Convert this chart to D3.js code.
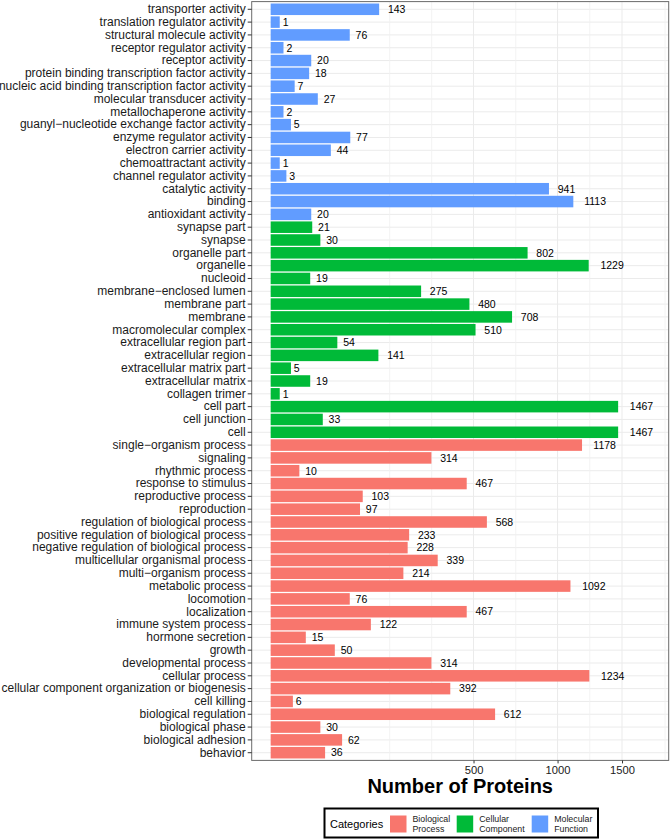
<!DOCTYPE html>
<html>
<head>
<meta charset="utf-8">
<script src="https://cdnjs.cloudflare.com/ajax/libs/d3/7.8.5/d3.min.js"></script>
<style>
  body { margin: 0; background: #fff; }
  svg { font-family: "Liberation Sans", Arial, sans-serif; }
</style>
</head>
<body>
<div id="chart"></div>
<script>
// GO terms, listed top to bottom as in the figure
var mfTerms = ["transporter activity", "translation regulator activity", "structural molecule activity",
    "receptor regulator activity", "receptor activity", "protein binding transcription factor activity",
    "nucleic acid binding transcription factor activity", "molecular transducer activity",
    "metallochaperone activity", "guanyl\u2212nucleotide exchange factor activity", "enzyme regulator activity",
    "electron carrier activity", "chemoattractant activity", "channel regulator activity",
    "catalytic activity", "binding", "antioxidant activity"];
var mfCounts = [143, 1, 76, 2, 20, 18, 7, 27, 2, 5, 77, 44, 1, 3, 941, 1113, 20];

var ccTerms = ["synapse part", "synapse", "organelle part", "organelle", "nucleoid",
    "membrane\u2212enclosed lumen", "membrane part", "membrane", "macromolecular complex",
    "extracellular region part", "extracellular region", "extracellular matrix part",
    "extracellular matrix", "collagen trimer", "cell part", "cell junction", "cell"];
var ccCounts = [21, 30, 802, 1229, 19, 275, 480, 708, 510, 54, 141, 5, 19, 1, 1467, 33, 1467];

var bpTerms = ["single\u2212organism process", "signaling", "rhythmic process", "response to stimulus",
    "reproductive process", "reproduction", "regulation of biological process",
    "positive regulation of biological process", "negative regulation of biological process",
    "multicellular organismal process", "multi\u2212organism process", "metabolic process",
    "locomotion", "localization", "immune system process", "hormone secretion", "growth",
    "developmental process", "cellular process", "cellular component organization or biogenesis",
    "cell killing", "biological regulation", "biological phase", "biological adhesion", "behavior"];
var bpCounts = [1178, 314, 10, 467, 103, 97, 568, 233, 228, 339, 214, 1092, 76, 467, 122, 15, 50,
    314, 1234, 392, 6, 612, 30, 62, 36];

var categoryNames = ["Biological Process", "Cellular Component", "Molecular Function"];
var categoryColors = ["#F8766D", "#00BA38", "#619CFF"];

var xTicks = [500, 1000, 1500];
var xMinorTicks = [172, 315, 730, 1237, 1890];

// combine into rows
var rows = [];
mfTerms.forEach(function(t, i) { rows.push({term: t, count: mfCounts[i], cat: "Molecular Function"}); });
ccTerms.forEach(function(t, i) { rows.push({term: t, count: ccCounts[i], cat: "Cellular Component"}); });
bpTerms.forEach(function(t, i) { rows.push({term: t, count: bpCounts[i], cat: "Biological Process"}); });

var svgWidth = 672;
var svgHeight = 840;
var panel = {left: 251.7, right: 668.7, top: 1.6, bottom: 760.4};

var svg = d3.select("#chart")
    .append("svg")
    .attr("width", svgWidth)
    .attr("height", svgHeight);

// sqrt scale, padded a little below zero like ggplot's expansion
var x = d3.scaleSqrt()
    .domain([-4.37, 1925])
    .range([panel.left, panel.right]);

var y = d3.scaleBand()
    .domain(rows.map(d => d.term))
    .range([panel.top, panel.bottom])
    .paddingInner(0.1)
    .paddingOuter(0.15);

var color = d3.scaleOrdinal()
    .domain(categoryNames)
    .range(categoryColors);

// grid
var grid = svg.append("g");
grid.selectAll(".hgrid")
    .data(rows)
    .enter()
    .append("line")
    .attr("x1", panel.left).attr("x2", panel.right)
    .attr("y1", d => y(d.term) + y.bandwidth() / 2)
    .attr("y2", d => y(d.term) + y.bandwidth() / 2)
    .attr("stroke", "#ebebeb")
    .attr("stroke-width", 1);
grid.selectAll(".vminor")
    .data(xMinorTicks)
    .enter()
    .append("line")
    .attr("x1", d => x(d)).attr("x2", d => x(d))
    .attr("y1", panel.top).attr("y2", panel.bottom)
    .attr("stroke", "#f0f0f0")
    .attr("stroke-width", 0.8);
grid.selectAll(".vmajor")
    .data(xTicks)
    .enter()
    .append("line")
    .attr("x1", d => x(d)).attr("x2", d => x(d))
    .attr("y1", panel.top).attr("y2", panel.bottom)
    .attr("stroke", "#ebebeb")
    .attr("stroke-width", 1);

// bars
svg.append("g")
    .selectAll("rect")
    .data(rows)
    .enter()
    .append("rect")
    .attr("x", x(0))
    .attr("y", d => y(d.term))
    .attr("width", d => x(d.count) - x(0))
    .attr("height", y.bandwidth())
    .attr("fill", d => color(d.cat));

// value labels, pushed right by half their width (hjust = -0.5)
svg.append("g")
    .selectAll("text")
    .data(rows)
    .enter()
    .append("text")
    .attr("y", d => y(d.term) + y.bandwidth() / 2)
    .attr("dy", "0.36em")
    .attr("font-size", "10.5px")
    .attr("fill", "#000")
    .text(d => d.count)
    .attr("x", function(d) {
        return x(d.count) + this.getComputedTextLength() * 0.5;
    });

// panel border
svg.append("rect")
    .attr("x", panel.left).attr("y", panel.top)
    .attr("width", panel.right - panel.left)
    .attr("height", panel.bottom - panel.top)
    .attr("fill", "none")
    .attr("stroke", "#6b6b6b")
    .attr("stroke-width", 1);

// y axis
var leftAxis = d3.axisLeft(y).tickSize(4).tickPadding(2);
var yAxis = svg.append("g")
    .attr("transform", `translate(${panel.left},0)`)
    .call(leftAxis);
yAxis.select(".domain").remove();
yAxis.selectAll(".tick line").attr("stroke", "#333");
yAxis.selectAll("text")
    .attr("font-size", "12px")
    .attr("fill", "#1a1a1a")
    .attr("font-family", "Liberation Sans, Arial, sans-serif");

// x axis
var bottomAxis = d3.axisBottom(x).tickValues(xTicks).tickFormat(d3.format("d")).tickSize(3).tickPadding(3);
var xAxis = svg.append("g")
    .attr("transform", `translate(0,${panel.bottom})`)
    .call(bottomAxis);
xAxis.select(".domain").remove();
xAxis.selectAll(".tick line").attr("stroke", "#333");
xAxis.selectAll("text")
    .attr("font-size", "11.2px")
    .attr("fill", "#1a1a1a")
    .attr("font-family", "Liberation Sans, Arial, sans-serif");

svg.append("text")
    .attr("x", (panel.left + panel.right) / 2)
    .attr("y", 793.3)
    .attr("text-anchor", "middle")
    .attr("font-size", "20px")
    .attr("font-weight", "bold")
    .text("Number of Proteins");

// legend
var legend = svg.append("g");
legend.append("rect")
    .attr("x", 324.5).attr("y", 808.5)
    .attr("width", 273.5).attr("height", 29)
    .attr("fill", "#fff")
    .attr("stroke", "#000")
    .attr("stroke-width", 2);
legend.append("text")
    .attr("x", 330).attr("y", 824)
    .attr("dy", "0.36em")
    .attr("font-size", "11px")
    .text("Categories");

var keyX = [390, 456.7, 531.7];
var keyLabels = [["Biological", "Process"], ["Cellular", "Component"], ["Molecular", "Function"]];
categoryNames.forEach(function(c, i) {
    legend.append("rect")
        .attr("x", keyX[i]).attr("y", 815.5)
        .attr("width", 16.5).attr("height", 17)
        .attr("fill", color(c));
    var t = legend.append("text")
        .attr("x", keyX[i] + 22.5)
        .attr("y", 819)
        .attr("font-size", "8.8px")
        .attr("fill", "#1a1a1a");
    t.append("tspan").attr("x", keyX[i] + 22.5).attr("dy", "0.36em").text(keyLabels[i][0]);
    t.append("tspan").attr("x", keyX[i] + 22.5).attr("dy", "9.6px").text(keyLabels[i][1]);
});
</script>
</body>
</html>
